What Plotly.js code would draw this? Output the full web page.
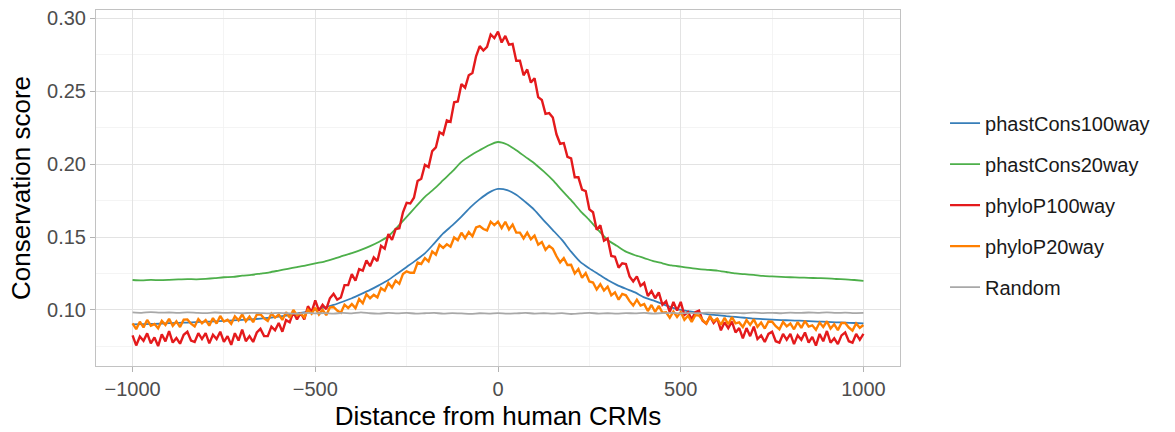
<!DOCTYPE html>
<html>
<head>
<meta charset="utf-8">
<script src="https://cdn.plot.ly/plotly-3.0.1.min.js"></script>
<style>html,body{margin:0;padding:0;background:#fff;}#chart{width:1175px;height:432px;}</style>
</head>
<body>
<div id="chart"></div>
<script>
// Series names
const seriesNames = ["phastCons100way", "phastCons20way", "phyloP100way", "phyloP20way", "Random"];

// Smooth series sampled every 25 bp from -1000 to 1000
const coarseStart = -1000;
const coarseStep = 25;
const phastCons100way = [
  0.0900,0.0902,0.0904,0.0905,0.0909,0.0911,0.0913,0.0916,0.0919,0.0921,
  0.0925,0.0928,0.0932,0.0935,0.0940,0.0946,0.0954,0.0963,0.0975,0.0986,
  0.1000,0.1017,0.1034,0.1056,0.1080,0.1108,0.1137,0.1170,0.1205,0.1250,
  0.1295,0.1340,0.1388,0.1455,0.1525,0.1580,0.1640,0.1705,0.1760,0.1805,
  0.1830,
  0.1822,0.1790,0.1740,0.1685,0.1615,0.1548,0.1480,0.1400,0.1330,0.1285,
  0.1245,0.1205,0.1172,0.1145,0.1120,0.1086,0.1065,0.1040,0.1018,0.1000,
  0.0990,0.0980,0.0970,0.0964,0.0957,0.0952,0.0946,0.0940,0.0937,0.0933,
  0.0930,0.0928,0.0926,0.0923,0.0920,0.0918,0.0915,0.0913,0.0910,0.0908
];
const phastCons20way = [
  0.1205,0.1202,0.1206,0.1204,0.1206,0.1209,0.1211,0.1210,0.1213,0.1218,
  0.1224,0.1226,0.1235,0.1240,0.1249,0.1258,0.1270,0.1282,0.1294,0.1306,
  0.1320,0.1332,0.1350,0.1370,0.1390,0.1412,0.1438,0.1468,0.1505,0.1570,
  0.1638,0.1708,0.1776,0.1830,0.1890,0.1950,0.2016,0.2060,0.2096,0.2130,
  0.2152,
  0.2135,0.2096,0.2050,0.2005,0.1950,0.1890,0.1820,0.1753,0.1680,0.1616,
  0.1545,0.1480,0.1440,0.1400,0.1375,0.1356,0.1335,0.1320,0.1305,0.1297,
  0.1288,0.1280,0.1275,0.1270,0.1260,0.1250,0.1245,0.1240,0.1233,0.1230,
  0.1227,0.1224,0.1222,0.1220,0.1218,0.1217,0.1212,0.1210,0.1205,0.1199
];
const randomScore = [
  0.0983,0.0980,0.0985,0.0981,0.0982,0.0979,0.0983,0.0980,0.0978,0.0982,
  0.0979,0.0981,0.0977,0.0980,0.0978,0.0976,0.0980,0.0977,0.0974,0.0979,
  0.0976,0.0978,0.0975,0.0979,0.0976,0.0983,0.0977,0.0975,0.0979,0.0976,
  0.0980,0.0974,0.0977,0.0979,0.0975,0.0978,0.0976,0.0973,0.0977,0.0975,
  0.0978,
  0.0974,0.0976,0.0979,0.0975,0.0977,0.0974,0.0978,0.0972,0.0976,0.0979,
  0.0975,0.0977,0.0974,0.0978,0.0976,0.0979,0.0975,0.0978,0.0980,0.0976,
  0.0979,0.0977,0.0981,0.0978,0.0976,0.0980,0.0977,0.0981,0.0978,0.0980,
  0.0977,0.0981,0.0979,0.0982,0.0980,0.0983,0.0979,0.0981,0.0978,0.0979
];

// Noisy series sampled every 10 bp from -1000 to 1000
const fineStart = -1000;
const fineStep = 10;
const phyloP100way = [
  0.0825,0.0756,0.0817,0.0788,0.0839,0.0770,0.0811,0.0752,0.0833,0.0784,
  0.0855,0.0776,0.0807,0.0768,0.0829,0.0850,0.0790,0.0780,0.0840,0.0800,
  0.0840,0.0770,0.0830,0.0800,0.0850,0.0780,0.0820,0.0760,0.0840,0.0790,
  0.0865,0.0785,0.0820,0.0780,0.0845,0.0870,0.0820,0.0820,0.0885,0.0860,
  0.0910,0.0850,0.0930,0.0915,0.0985,0.0935,0.0980,0.0935,0.1025,0.0985,
  0.1065,0.0995,0.1035,0.1005,0.1080,0.1110,0.1070,0.1085,0.1170,0.1170,
  0.1245,0.1200,0.1280,0.1270,0.1340,0.1300,0.1360,0.1335,0.1440,0.1420,
  0.1520,0.1480,0.1555,0.1560,0.1670,0.1735,0.1730,0.1770,0.1885,0.1900,
  0.1995,0.1980,0.2090,0.2115,0.2220,0.2203,0.2300,0.2290,0.2425,0.2430,
  0.2550,0.2525,0.2610,0.2625,0.2740,0.2810,0.2780,0.2805,0.2890,0.2865,
  0.2910,
  0.2835,0.2880,0.2820,0.2825,0.2710,0.2710,0.2610,0.2650,0.2560,0.2590,
  0.2460,0.2440,0.2345,0.2350,0.2320,0.2205,0.2140,0.2145,0.2050,0.2040,
  0.1910,0.1910,0.1825,0.1815,0.1690,0.1670,0.1550,0.1580,0.1475,0.1490,
  0.1370,0.1365,0.1290,0.1320,0.1315,0.1230,0.1195,0.1230,0.1165,0.1185,
  0.1095,0.1130,0.1080,0.1120,0.1035,0.1060,0.0985,0.1055,0.0995,0.1055,
  0.0965,0.0985,0.0935,0.0985,0.0995,0.0925,0.0905,0.0955,0.0910,0.0940,
  0.0860,0.0915,0.0875,0.0920,0.0845,0.0875,0.0805,0.0875,0.0820,0.0885,
  0.0800,0.0825,0.0780,0.0835,0.0850,0.0785,0.0775,0.0835,0.0795,0.0835,
  0.0765,0.0825,0.0795,0.0845,0.0775,0.0815,0.0755,0.0835,0.0785,0.0855,
  0.0775,0.0805,0.0765,0.0825,0.0845,0.0785,0.0775,0.0835,0.0795,0.0835
];
const phyloP20way = [
  0.0907,0.0868,0.0919,0.0880,0.0931,0.0892,0.0903,0.0874,0.0925,0.0897,
  0.0939,0.0890,0.0921,0.0882,0.0933,0.0934,0.0905,0.0886,0.0937,0.0908,
  0.0930,0.0892,0.0944,0.0906,0.0958,0.0920,0.0932,0.0904,0.0956,0.0928,
  0.0970,0.0922,0.0954,0.0916,0.0968,0.0970,0.0942,0.0924,0.0975,0.0947,
  0.0968,0.0931,0.0984,0.0947,0.1000,0.0963,0.0976,0.0949,0.1001,0.0973,
  0.1015,0.0968,0.1001,0.0964,0.1017,0.1020,0.0995,0.0980,0.1036,0.1013,
  0.1040,0.1012,0.1074,0.1046,0.1108,0.1080,0.1103,0.1086,0.1149,0.1132,
  0.1185,0.1153,0.1201,0.1179,0.1247,0.1265,0.1255,0.1255,0.1325,0.1315,
  0.1355,0.1333,0.1401,0.1379,0.1447,0.1425,0.1450,0.1434,0.1497,0.1479,
  0.1530,0.1492,0.1534,0.1505,0.1566,0.1575,0.1555,0.1545,0.1605,0.1582,
  0.1605,
  0.1562,0.1605,0.1552,0.1586,0.1530,0.1530,0.1490,0.1530,0.1485,0.1510,
  0.1448,0.1466,0.1412,0.1440,0.1420,0.1368,0.1326,0.1355,0.1308,0.1310,
  0.1250,0.1280,0.1220,0.1253,0.1195,0.1188,0.1140,0.1176,0.1133,0.1160,
  0.1100,0.1120,0.1070,0.1110,0.1100,0.1060,0.1030,0.1070,0.1030,0.1040,
  0.0992,0.1034,0.0986,0.1028,0.0980,0.0983,0.0946,0.0989,0.0952,0.0985,
  0.0932,0.0960,0.0917,0.0964,0.0962,0.0930,0.0907,0.0954,0.0922,0.0940,
  0.0898,0.0945,0.0902,0.0950,0.0907,0.0914,0.0882,0.0930,0.0897,0.0935,
  0.0884,0.0913,0.0872,0.0920,0.0919,0.0888,0.0867,0.0917,0.0887,0.0907,
  0.0867,0.0916,0.0876,0.0925,0.0885,0.0894,0.0864,0.0913,0.0883,0.0922,
  0.0872,0.0901,0.0861,0.0910,0.0910,0.0879,0.0858,0.0907,0.0877,0.0896
];

// Axis ticks
const xTickVals = [-1000, -500, 0, 500, 1000];
const yTickVals = [0.10, 0.15, 0.20, 0.25, 0.30];
const yTickText = ["0.10", "0.15", "0.20", "0.25", "0.30"];

const colors = ["#377EB8", "#4DAF4A", "#E41A1C", "#FF7F00", "#A8A8A8"];

function fineTrace(name, ys, color) {
  return {type: "scatter", mode: "lines", name: name, legendgroup: name,
    x0: fineStart, dx: fineStep, y: ys,
    line: {color: color, width: 2.4}, hoverinfo: "skip"};
}
function coarseTrace(name, ys, color) {
  return {type: "scatter", mode: "lines", name: name, legendgroup: name,
    x0: coarseStart, dx: coarseStep, y: ys,
    line: {color: color, width: 1.8, shape: "spline", smoothing: 0.6}, hoverinfo: "skip"};
}

const traces = [
  coarseTrace(seriesNames[0], phastCons100way, colors[0]),
  coarseTrace(seriesNames[1], phastCons20way, colors[1]),
  fineTrace(seriesNames[2], phyloP100way, colors[2]),
  fineTrace(seriesNames[3], phyloP20way, colors[3]),
  coarseTrace(seriesNames[4], randomScore, colors[4])
];

const font = "Liberation Sans, Arial, Helvetica, sans-serif";
const layout = {
  width: 1175, height: 432,
  margin: {l: 96, r: 275, t: 10, b: 66},
  paper_bgcolor: "#ffffff", plot_bgcolor: "#ffffff",
  font: {family: font, color: "#4d4d4d"},
  showlegend: true,
  legend: {
    x: 1.056, xanchor: "left", y: 0.452, yanchor: "middle",
    font: {family: font, size: 20, color: "#1a1a1a"},
    tracegroupgap: 12, bgcolor: "rgba(0,0,0,0)", borderwidth: 0,
    itemclick: false, itemdoubleclick: false
  },
  xaxis: {
    range: [-1100, 1100], tickvals: xTickVals, ticks: "outside", ticklen: 5,
    tickcolor: "#b3b3b3", tickwidth: 1,
    tickfont: {family: font, size: 20, color: "#4d4d4d"},
    showgrid: true, gridcolor: "#e3e3e3", gridwidth: 1,
    minor: {dtick: 250, tick0: -750, showgrid: true, gridcolor: "#f1f1f1", gridwidth: 0.8, ticks: ""},
    zeroline: false, showline: true, mirror: true, linecolor: "#c2c2c2", linewidth: 1,
    title: {text: "Distance from human CRMs", font: {family: font, size: 26, color: "#000000"}, standoff: 7},
    automargin: false, fixedrange: true
  },
  yaxis: {
    range: [0.0615, 0.3058], tickvals: yTickVals, ticktext: yTickText, ticks: "outside", ticklen: 5,
    tickcolor: "#b3b3b3", tickwidth: 1,
    tickfont: {family: font, size: 20, color: "#4d4d4d"},
    showgrid: true, gridcolor: "#e3e3e3", gridwidth: 1,
    minor: {dtick: 0.025, tick0: 0.075, showgrid: true, gridcolor: "#f1f1f1", gridwidth: 0.8, ticks: ""},
    zeroline: false, showline: true, mirror: true, linecolor: "#c2c2c2", linewidth: 1,
    title: {text: "Conservation score", font: {family: font, size: 26, color: "#000000"}, standoff: 8},
    automargin: false, fixedrange: true
  }
};

Plotly.newPlot("chart", traces, layout, {displayModeBar: false, staticPlot: true});
</script>
</body>
</html>
